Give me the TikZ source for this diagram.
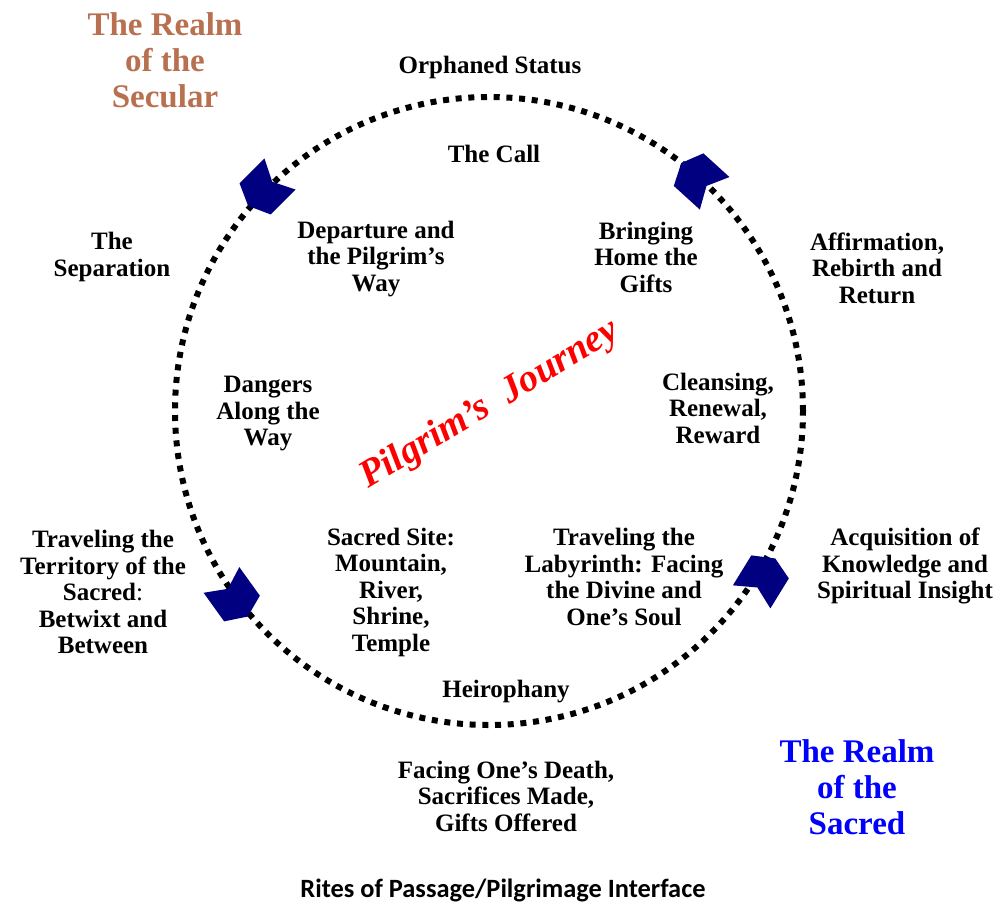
\documentclass[tikz,border=0pt]{standalone}
\usepackage{fontspec}
\setmainfont{Liberation Serif}
\newfontfamily\carl{Carlito}
\definecolor{secular}{RGB}{184,112,80}
\definecolor{sacredblue}{RGB}{0,0,255}
\definecolor{arrownavy}{RGB}{0,0,128}
\tikzset{
 lbl/.style={font=\fontsize{25}{26.5}\selectfont\bfseries, align=center, inner sep=0pt},
 realm/.style={font=\fontsize{33}{36}\selectfont\bfseries, align=center, inner sep=0pt},
 ring/.style={line width=6pt, dash pattern=on 6pt off 6.7pt},
 chevron/.pic={\fill[arrownavy, scale=1.1] (23,0) -- (14,20) -- (-18,20) -- (-8,0) -- (-18,-20) -- (14,-20) -- cycle;},
}
\begin{document}
\begin{tikzpicture}[x=1pt,y=-1pt]
\useasboundingbox (0,0) rectangle (999,903);
\coordinate (c) at (489,411);
\draw[ring] (c) circle[radius=314pt];
\pic[rotate=225] at (266,188) {chevron};
\pic[rotate=137.7] at (700,180) {chevron};
\pic[rotate=305.7] at (233,596) {chevron};
\pic[rotate=58.4] at (762,580) {chevron};

\node[lbl] (orph) at (490,67) {Orphaned Status};
\node[lbl] (call) at (494,154) {The Call};
\node[lbl] (sep) at (112,257) {The\\Separation};
\node[lbl] (dep) at (376,259) {Departure and\\the Pilgrim’s\\Way};
\node[lbl] (bring) at (646,257) {Bringing\\Home the\\Gifts};
\node[lbl] (affirm) at (877,268) {Affirmation,\\Rebirth and\\Return};
\node[lbl] (danger) at (268,414) {Dangers\\Along the\\Way};
\node[lbl] (cleanse) at (718,408) {Cleansing,\\Renewal,\\Reward};
\node[lbl] (territory) at (103,592) {Traveling the\\Territory of the\\Sacred\textmd{:}\\Betwixt and\\Between};
\node[lbl] (site) at (391,592) {Sacred Site:\\Mountain,\\River,\\Shrine,\\Temple};
\node[lbl] (laby) at (624,577) {Traveling the\\Labyrinth: Facing\\the Divine and\\One’s Soul};
\node[lbl] (acq) at (905,566) {Acquisition of\\Knowledge and\\Spiritual Insight};
\node[lbl] (heiro) at (506,692) {Heirophany};
\node[lbl] (death) at (506,796) {Facing One’s Death,\\Sacrifices Made,\\Gifts Offered};

\node[realm, text=secular] (secular) at (165,60) {The Realm\\of the\\Secular};
\node[realm, text=sacredblue] (sacred) at (857,787) {The Realm\\of the\\Sacred};

\node[inner sep=0pt, text=red, rotate=31, font=\fontsize{38.5}{40}\selectfont\bfseries\itshape] (journey) at (490,405) {Pilgrim’s\ \ Journey};

\node[inner sep=0pt, font=\carl\fontsize{26.4}{28}\selectfont\bfseries] (title) at (503,890) {Rites of Passage/Pilgrimage Interface};
\end{tikzpicture}
\end{document}
